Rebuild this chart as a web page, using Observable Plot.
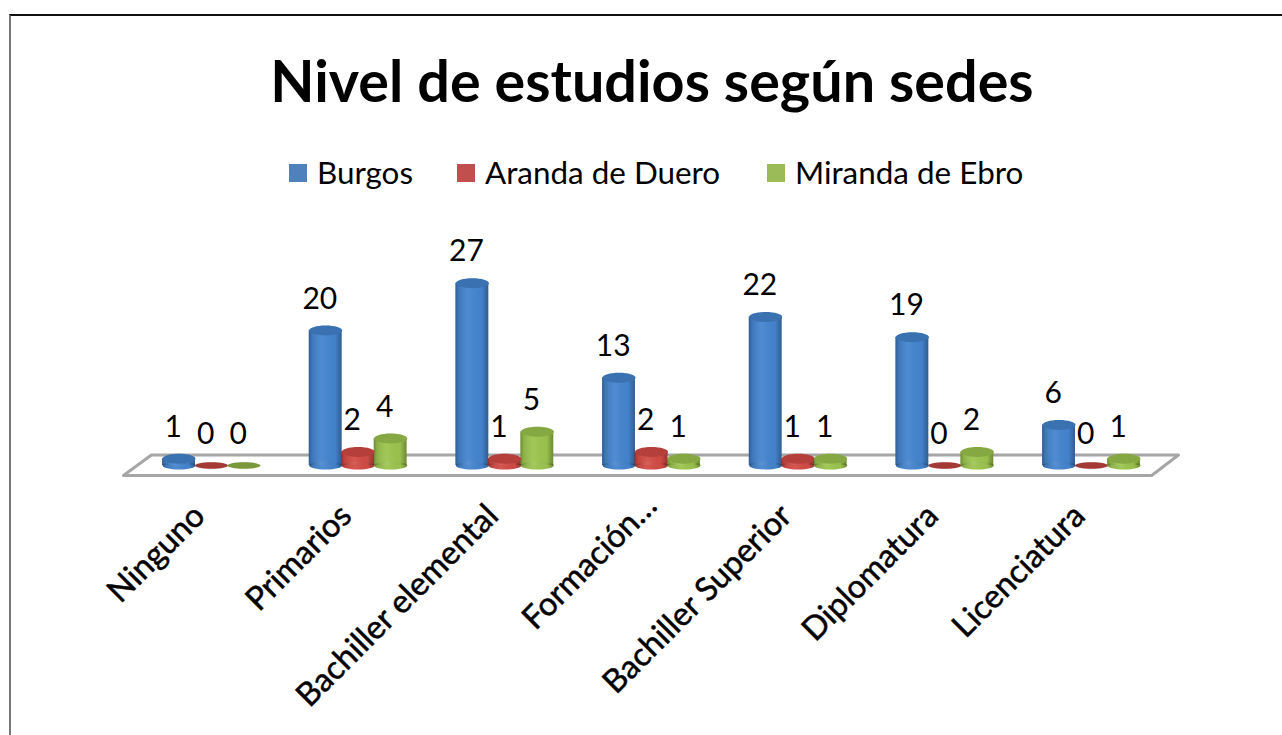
<!DOCTYPE html>
<html lang="es">
<head>
<meta charset="utf-8">
<script src="https://cdn.jsdelivr.net/npm/d3@7"></script>
<script src="https://cdn.jsdelivr.net/npm/@observablehq/plot@0.6"></script>
<style>
html,body{margin:0;padding:0;background:#fff;overflow:hidden}
body{width:1282px;height:735px;position:relative;font-family:Lato,sans-serif;color:#000}
#frame{position:absolute;left:9px;top:14px;width:1400px;height:800px;border-style:solid;border-color:#111 #111 #111 #777;border-width:2px 0 0 2px;box-sizing:border-box;pointer-events:none}
#title{position:absolute;left:0;right:0;top:42px;padding-left:22px;text-align:center;font-size:57.5px;font-weight:700;line-height:76px;white-space:nowrap}
#legend{position:absolute;left:289px;top:154px;height:36px;font-size:31.4px;line-height:36px;white-space:nowrap}
#legend span.i{position:absolute;top:0;display:block}
#legend i{position:absolute;top:10px;width:18px;height:18px;display:block}
#chart{position:absolute;left:0;top:195px}
</style>
</head>
<body>
<div id="frame"></div>
<div id="title">Nivel de estudios según sedes</div>
<div id="legend"></div>
<div id="chart"></div>
<script>
const categories = ["Ninguno","Primarios","Bachiller elemental","Formación…","Bachiller Superior","Diplomatura","Licenciatura"];
const seriesNames = ["Burgos","Aranda de Duero","Miranda de Ebro"];
const seriesColors = ["#4484ce","#d34b45","#9cc44e"];
const legendColors = ["#4f81bd","#c0504d","#9bbb59"];
const burgos = [1,20,27,13,22,19,6];
const aranda = [0,2,1,2,1,0,0];
const miranda = [0,4,5,1,1,2,1];
const floorX = [-0.41,6.593,6.41,-0.6,-0.41];
const floorY = [1.556,1.556,-1.48,-1.48,1.556];

const seriesValues = [burgos,aranda,miranda];
const barHalf = 0.112, offsetUnit = 0.2215;
const rows = [];
categories.forEach((c,i)=>seriesValues.forEach((vals,s)=>{
  const cx = i + (s-1)*offsetUnit;
  rows.push({category:c, index:i, series:seriesNames[s], value:vals[i], cx, x1:cx-barHalf, x2:cx+barHalf});
}));
const solid = rows.filter(d=>d.value>0), flat = rows.filter(d=>d.value===0);

function ellipseSymbol(ratio){
  return {draw(ctx,size){
    const rx=Math.sqrt(size/Math.PI), ry=rx*ratio, k=0.5523;
    ctx.moveTo(-rx,0);
    ctx.bezierCurveTo(-rx,-ry*k,-rx*k,-ry,0,-ry);
    ctx.bezierCurveTo(rx*k,-ry,rx,-ry*k,rx,0);
    ctx.bezierCurveTo(rx,ry*k,rx*k,ry,0,ry);
    ctx.bezierCurveTo(-rx*k,ry,-rx,ry*k,-rx,0);
    ctx.closePath();
  }};
}
const defs = () => {
  const d = d3.create("svg:defs");
  const g = d.append("linearGradient").attr("id","shade");
  [[0,"#000",.3],[.1,"#000",.1],[.4,"#fff",.06],[.8,"#000",.02],[1,"#000",.3]].forEach(([o,c,a])=>
    g.append("stop").attr("offset",o).attr("stop-color",c).attr("stop-opacity",a));
  return d.node();
};
const common = {x:"cx", r:16.5, fill:"series"};
const axisStyle = {anchor:"bottom",tickFormat:i=>categories[i],tickSize:0,tickRotate:-45,tickPadding:0,fontSize:32.5,fontFamily:"Lato",fill:"#000",textStroke:"#000",textStrokeWidth:0.5,label:null};
const plot = Plot.plot({
  width:1282, height:540,
  marginTop:0, marginRight:0, marginLeft:0, marginBottom:230,
  x:{type:"linear", domain:[-1,7], range:[64.33,1237.69], axis:null},
  y:{domain:[0,30], range:[270,67.5], axis:null},
  color:{type:"ordinal", domain:seriesNames, range:seriesColors},
  marks:[
    defs,
    Plot.line(floorX.map((x,i)=>({x,y:floorY[i]})),{x:"x",y:"y",stroke:"#a6a6a6",strokeWidth:3}),
    Plot.dot(flat,{...common,y:"value",symbol:ellipseSymbol(0.2)}),
    Plot.dot(flat,{...common,y:"value",fill:"#000",fillOpacity:0.22,symbol:ellipseSymbol(0.2)}),
    Plot.dot(solid,{...common,y:()=>0,symbol:ellipseSymbol(0.24)}),
    Plot.rect(solid,{x1:"x1",x2:"x2",y1:()=>0,y2:"value",fill:"series"}),
    Plot.dot(solid,{...common,y:()=>0,fill:"url(#shade)",symbol:ellipseSymbol(0.24)}),
    Plot.rect(solid,{x1:"x1",x2:"x2",y1:()=>0,y2:"value",fill:"url(#shade)"}),
    Plot.dot(solid,{...common,y:"value",symbol:ellipseSymbol(0.3)}),
    Plot.dot(solid,{...common,y:"value",fill:"#000",fillOpacity:0.14,symbol:ellipseSymbol(0.3)}),
    Plot.text(rows,{x:d=>d.cx-0.04,y:"value",text:d=>String(d.value),dy:-31.5,fontSize:30,fontFamily:"Lato",fill:"#000"}),
    Plot.axisX({...axisStyle,ticks:[0,1,2,4,5,6],dx:-12,dy:5}),
    Plot.axisX({...axisStyle,ticks:[3],dx:0,dy:-5})
  ]
});
plot.style.background="transparent";
plot.style.overflow="visible";
document.getElementById("chart").append(plot);

const legend = document.getElementById("legend");
const legendItems = [0,168,478];
seriesNames.forEach((n,i)=>{
  const s=document.createElement("span"); s.className="i"; s.style.left=legendItems[i]+"px";
  const sw=document.createElement("i"); sw.style.background=legendColors[i];
  const t=document.createElement("span"); t.textContent=n; t.style.marginLeft="28px";
  s.append(sw,t); legend.append(s);
});
</script>
</body>
</html>
